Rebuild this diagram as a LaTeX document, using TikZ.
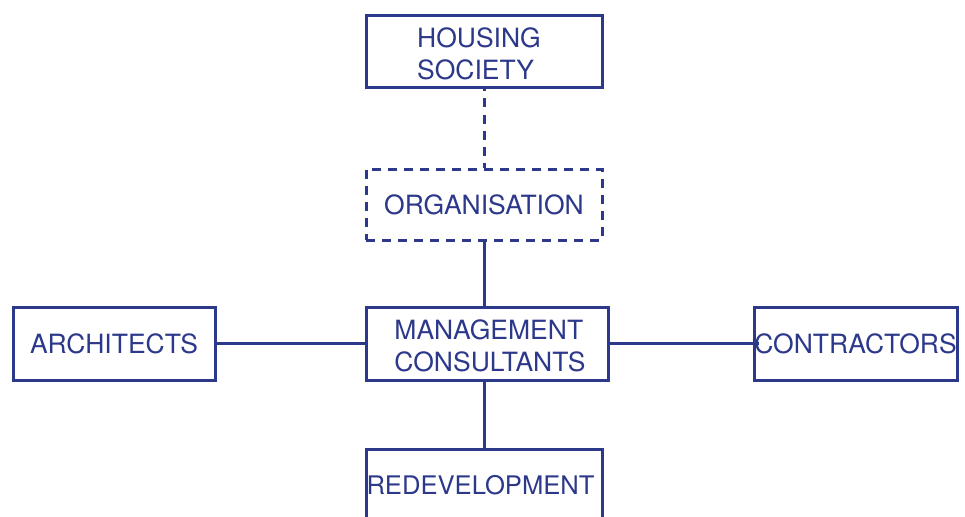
\documentclass[tikz,border=0pt]{standalone}
\usepackage{fontspec}
\setmainfont{TeX Gyre Heros}
\definecolor{navy}{RGB}{44,56,138}
\begin{document}
\begin{tikzpicture}[x=1pt,y=-1pt,
  every node/.style={text=navy,font=\fontsize{26.5}{32}\selectfont},
  box/.style={draw=navy,line width=3pt,inner sep=0pt,align=left},
  dbox/.style={box,dash pattern=on 9pt off 7pt},
  conn/.style={draw=navy,line width=3pt},
  dconn/.style={conn,dash pattern=on 9pt off 7pt,dash phase=4pt}]
\clip (0,0) rectangle (965,516);
\useasboundingbox (0,0) rectangle (965,516);
\node[box,minimum width=236pt,minimum height=72pt] (hs) at (484,52) {\raisebox{-11.5pt}[0pt][0pt]{\begin{tabular}{@{}l@{}}HOUSING\\SOCIETY\end{tabular}}\hspace*{10pt}};
\node[dbox,minimum width=236pt,minimum height=71pt] (org) at (484,204.5) {ORGANISATION};
\node[box,minimum width=242pt,minimum height=73pt] (mc) at (487,343.5) {\hspace*{6pt}\raisebox{-12pt}[0pt][0pt]{\begin{tabular}{@{}l@{}}MANAGEMENT\\CONSULTANTS\end{tabular}}};
\node[box,minimum width=202pt,minimum height=73pt] (ar) at (114,343.5) {ARCHITECTS};
\node[box,minimum width=203pt,minimum height=73pt] (ct) at (855.5,343.5) {CONTRACTORS};
\node[box,minimum width=236pt,minimum height=72pt,font=\fontsize{25.6}{32}\selectfont] (rd) at (484,485) {\hspace*{-7pt}REDEVELOPMENT};
\coordinate (ctend) at ([xshift=6pt]ct.west);
\draw[dconn] (org.north) -- (hs.south);
\draw[conn] (org.south) -- (mc.north -| org.south);
\draw[conn] (ar.east) -- (mc.west);
\draw[conn] (mc.east) -- (ctend);
\draw[conn] (mc.south -| rd.north) -- (rd.north);
\end{tikzpicture}
\end{document}
